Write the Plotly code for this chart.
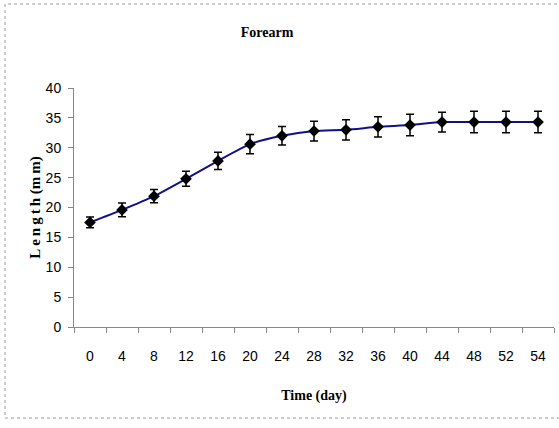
import plotly.graph_objects as go

days = ["0", "4", "8", "12", "16", "20", "24", "28", "32", "36", "40", "44", "48", "52", "54"]
length_mm = [17.5, 19.6, 21.9, 24.8, 27.8, 30.6, 32.0, 32.8, 33.0, 33.5, 33.8, 34.3, 34.3, 34.3, 34.3]
err_mm = [0.9, 1.15, 1.1, 1.25, 1.45, 1.6, 1.55, 1.65, 1.7, 1.7, 1.8, 1.65, 1.8, 1.8, 1.8]
y_ticks = [0, 5, 10, 15, 20, 25, 30, 35, 40]

W, H = 559, 428
ml, mr, mt, mb = 74, 5, 88, 101
pw, ph = W - ml - mr, H - mt - mb

fig = go.Figure()
fig.add_trace(go.Scatter(
    x=days, y=length_mm,
    mode="lines+markers",
    line=dict(color="#10108a", width=2, shape="spline", smoothing=0.6),
    marker=dict(symbol="diamond", size=9, color="black"),
    error_y=dict(type="data", array=err_mm, visible=True, color="black", thickness=1.5, width=4),
    showlegend=False,
))

times = "Liberation Serif, Times New Roman, serif"
sans = "Liberation Sans, Arial, sans-serif"

fig.update_layout(
    width=W, height=H,
    margin=dict(l=ml, r=mr, t=mt, b=mb),
    paper_bgcolor="white", plot_bgcolor="white",
    title=dict(text="<b>Forearm</b>", x=267 / W, xanchor="center", y=1 - 32 / H, yanchor="middle",
               font=dict(family=times, size=14, color="black")),
    xaxis=dict(
        type="category", range=[-0.5, len(days) - 0.5], tickson="boundaries", ticks="outside",
        ticklen=5, tickcolor="#888",
        showline=True, linecolor="#888", linewidth=1, showgrid=False, zeroline=False,
        tickfont=dict(family=sans, size=14, color="black"), ticklabelstandoff=16,
        title=dict(text="<b>Time (day)</b>", font=dict(family=times, size=14, color="black"), standoff=27),
    ),
    yaxis=dict(
        range=[0, 40], tickvals=y_ticks, ticks="outside", ticklen=5, tickcolor="#888",
        showline=True, linecolor="#888", linewidth=1, showgrid=False, zeroline=False,
        tickfont=dict(family=sans, size=14, color="black"), ticklabelstandoff=4,
        title=dict(text="<b>L\u2009e\u2009n\u2009g\u2009t\u2009h (m\u2009m)</b>",
                   font=dict(family=times, size=15, color="black"), standoff=1),
    ),
    shapes=[dict(type="rect", xref="paper", yref="paper",
                 x0=(5 - ml) / pw, x1=1.2, y0=-(418 - (H - mb)) / ph, y1=(H - mb - 4) / ph,
                 line=dict(color="#999", width=1, dash="dot"), fillcolor="rgba(0,0,0,0)", layer="below")],
)

fig.write_html("out.html")
